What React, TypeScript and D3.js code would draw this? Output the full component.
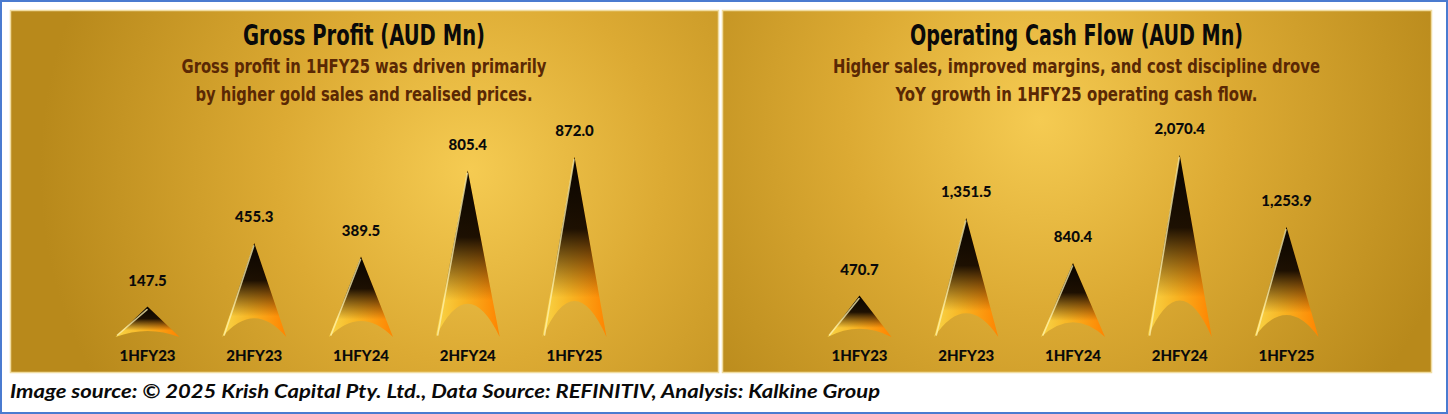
import React from 'react';
import * as d3 from 'd3';

const categories = ['1HFY23', '2HFY23', '1HFY24', '2HFY24', '1HFY25'];
const grossProfit = [147.5, 455.3, 389.5, 805.4, 872.0];
const operatingCashFlow = [470.7, 1351.5, 840.4, 2070.4, 1253.9];
const grossTitle = 'Gross Profit (AUD Mn)';
const grossSubtitle = ['Gross profit in 1HFY25 was driven primarily', 'by higher gold sales and realised prices.'];
const ocfTitle = 'Operating Cash Flow (AUD Mn)';
const ocfSubtitle = ['Higher sales, improved margins, and cost discipline drove', 'YoY growth in 1HFY25 operating cash flow.'];
const footerText = 'Image source: © 2025 Krish Capital Pty. Ltd., Data Source: REFINITIV, Analysis: Kalkine Group';

const W = 1448;
const H = 414;
const BASE_Y = 337;
const fmt = d3.format(',.1f');

type PanelProps = {
  id: string;
  x0: number;
  width: number;
  title: string;
  titleWidth: number;
  subtitle: string[];
  subtitleWidths: number[];
  values: number[];
  yMax: number;
  yTop: number;
  glow: [number, number];
};

function Panel(p: PanelProps) {
  const x = d3.scalePoint<string>().domain(categories).range([p.x0 + 137.5, p.x0 + 564.5]);
  const y = d3.scaleLinear().domain([0, p.yMax]).range([BASE_Y, p.yTop]);
  const cx = p.x0 + p.width / 2;
  const halfW = 32;
  return (
    <g>
      <defs>
        <radialGradient id={`bg-${p.id}`} gradientUnits="userSpaceOnUse" cx={p.glow[0]} cy={p.glow[1]} r={430}>
          <stop offset="0" stopColor="#f5cb52" />
          <stop offset="0.45" stopColor="#dcaa33" />
          <stop offset="1" stopColor="#b8891b" />
        </radialGradient>
      </defs>
      <rect x={p.x0 + 0.5} y={10.5} width={p.width} height={362} fill={`url(#bg-${p.id})`} stroke="#f0dca0" strokeWidth={1.5} />
      <text x={cx} y={45} textAnchor="middle" fontFamily="'Liberation Sans Narrow', 'DejaVu Sans Condensed', sans-serif" fontWeight="bold" fontSize={28} fill="#0a0a0a" textLength={p.titleWidth} lengthAdjust="spacingAndGlyphs">{p.title}</text>
      {p.subtitle.map((s, i) => (
        <text key={i} x={cx} y={73 + i * 28} textAnchor="middle" fontFamily="'Liberation Sans Narrow', 'DejaVu Sans Condensed', sans-serif" fontWeight="bold" fontSize={20} fill="#5a2804" textLength={p.subtitleWidths[i]} lengthAdjust="spacingAndGlyphs">{s}</text>
      ))}
      {p.values.map((v, i) => {
        const c = x(categories[i]) as number;
        const yt = y(v);
        const rise = 0.2 * (BASE_Y - yt);
        const path = `M${c - halfW},${BASE_Y} L${c},${yt} L${c + halfW},${BASE_Y} Q${c},${BASE_Y - 2 * rise} ${c - halfW},${BASE_Y} Z`;
        return (
          <g key={categories[i]}>
            <path d={path} fill="url(#barBase)" />
            <path d={path} fill="url(#barDark)" />
            <line x1={c - halfW + 2} y1={BASE_Y - 2} x2={c - 0.5} y2={yt + 3} stroke="#fff3b0" strokeWidth={1.6} opacity={0.75} strokeLinecap="round" />
            <text x={c} y={yt - 21} textAnchor="middle" fontFamily="Lato, 'Open Sans', sans-serif" fontWeight="900" fontSize={15} fill="#0a0a0a">{fmt(v)}</text>
            <text x={c} y={361} textAnchor="middle" fontFamily="Lato, 'Open Sans', sans-serif" fontWeight="900" fontSize={15} fill="#0a0a0a">{categories[i]}</text>
          </g>
        );
      })}
    </g>
  );
}

export default function App() {
  return (
    <>
      <style>{'body{margin:0;}'}</style>
      <svg width={W} height={H} viewBox={`0 0 ${W} ${H}`} style={{ display: 'block' }}>
        <defs>
          <linearGradient id="barBase" x1="0" y1="0" x2="1" y2="0">
            <stop offset="0" stopColor="#f8d548" />
            <stop offset="0.45" stopColor="#f7b322" />
            <stop offset="1" stopColor="#ff8400" />
          </linearGradient>
          <linearGradient id="barDark" x1="0" y1="0" x2="0" y2="1">
            <stop offset="0" stopColor="#080400" stopOpacity={1} />
            <stop offset="0.4" stopColor="#120800" stopOpacity={0.95} />
            <stop offset="0.78" stopColor="#3a1800" stopOpacity={0} />
          </linearGradient>
        </defs>
        <rect x={1} y={1} width={W - 2} height={H - 2} fill="#ffffff" stroke="#4a7bd0" strokeWidth={2} />
        <Panel id="gp" x0={10} width={708} title={grossTitle} titleWidth={242} subtitle={grossSubtitle} subtitleWidths={[365, 337]} values={grossProfit} yMax={1000} yTop={130.4} glow={[470, 170]} />
        <Panel id="ocf" x0={722} width={709} title={ocfTitle} titleWidth={333} subtitle={ocfSubtitle} subtitleWidths={[487, 362]} values={operatingCashFlow} yMax={2400} yTop={125.8} glow={[1040, 120]} />
        <text x={10} y={398} fontFamily="Lato, 'Open Sans', sans-serif" fontStyle="italic" fontWeight="bold" fontSize={18} fill="#0a0a0a" textLength={870} lengthAdjust="spacingAndGlyphs">{footerText}</text>
      </svg>
    </>
  );
}
